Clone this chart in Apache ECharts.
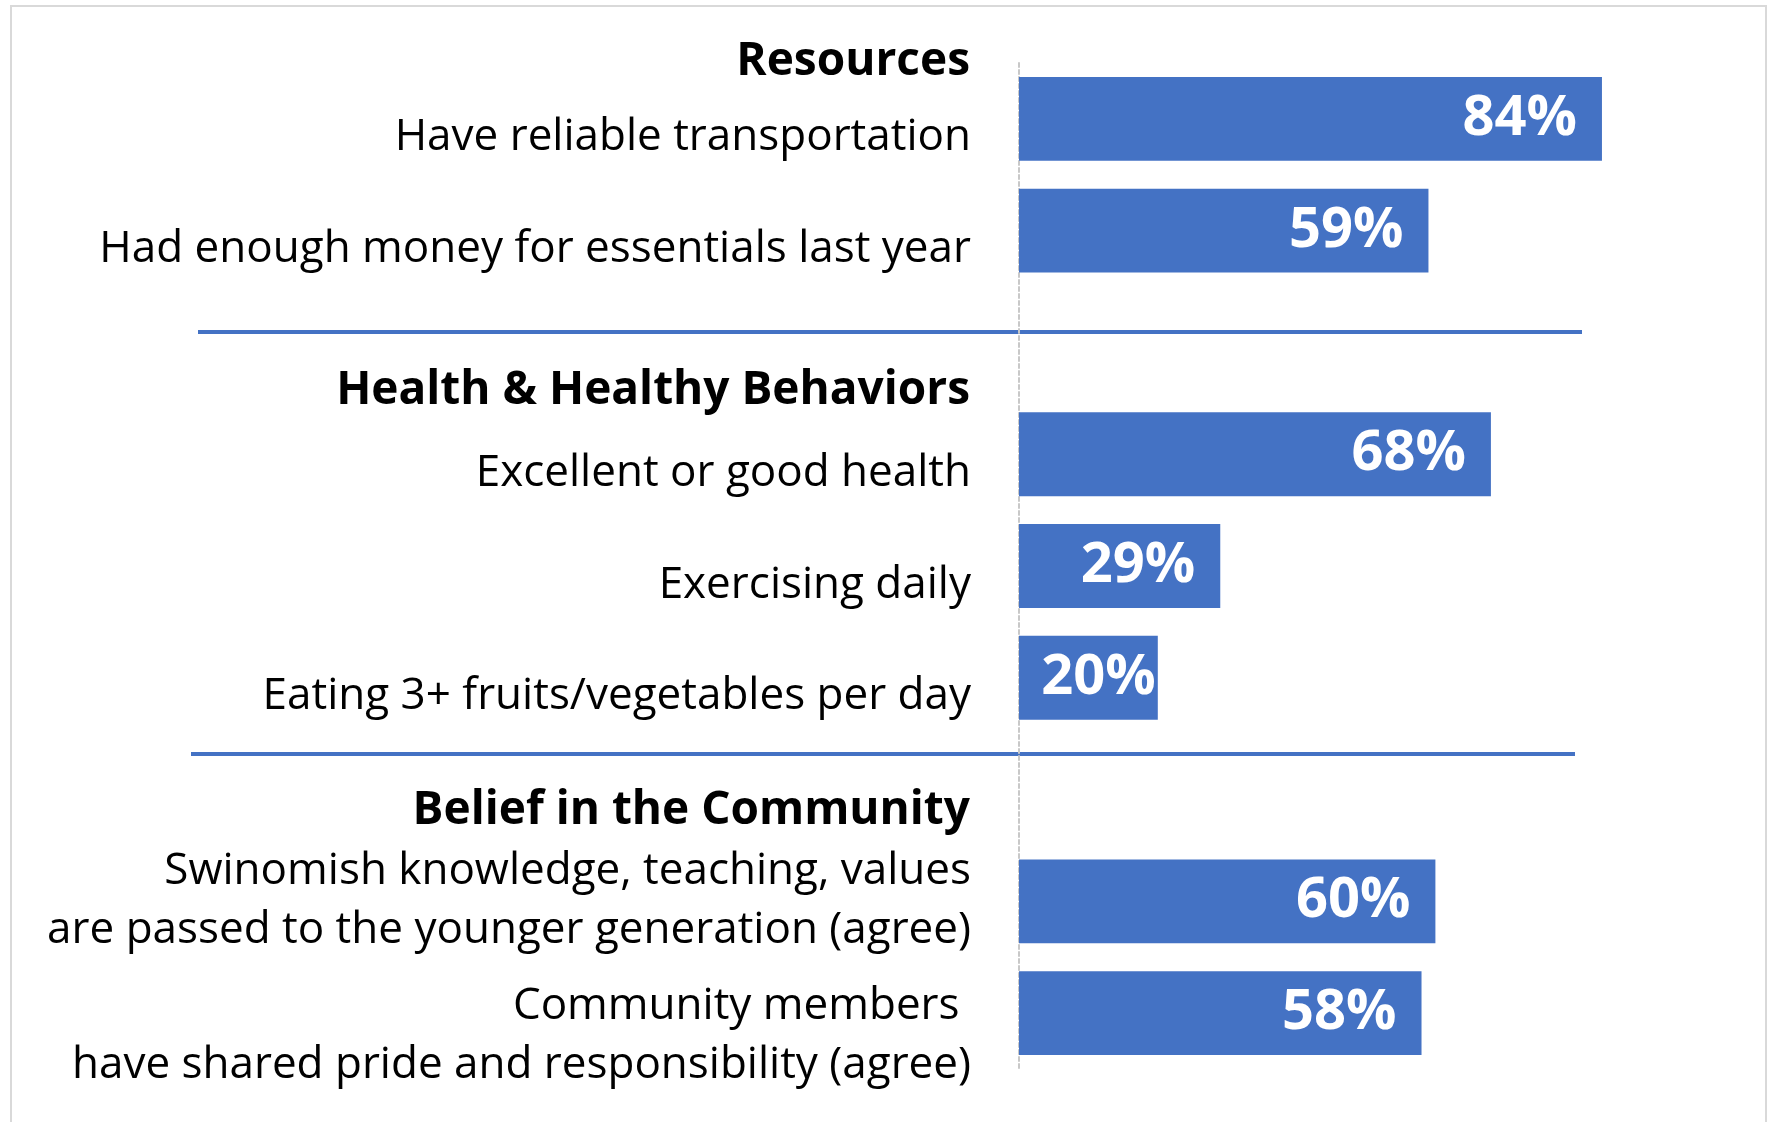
<!DOCTYPE html>
<html>
<head>
<meta charset="utf-8">
<script src="https://cdn.jsdelivr.net/npm/echarts@6/dist/echarts.min.js"></script>
<style>
  html, body { margin: 0; padding: 0; background: #fff; }
  #chart { width: 1775px; height: 1122px; }
</style>
</head>
<body>
<div id="chart"></div>
<script>
// rows of the chart, top to bottom; empty strings are the gaps between groups
const categories = [
  "Have reliable transportation",
  "Had enough money for essentials last year",
  "",
  "Excellent or good health",
  "Exercising daily",
  "Eating 3+ fruits/vegetables per day",
  "",
  "Swinomish knowledge, teaching, values\nare passed to the younger generation (agree)",
  "Community members \nhave shared pride and responsibility (agree)"
];
const values = [84, 59, null, 68, 29, 20, null, 60, 58];
const groupTitles = ["Resources", "Health & Healthy Behaviors", "Belief in the Community"];

const blue = "#4472C4";
const font = "Open Sans";

const chart = echarts.init(document.getElementById("chart"));

const barData = values.map((v) => {
  if (v == null) return null;
  // short bar: Excel pushes the label to the end of the bar
  if (v < 25) {
    return { value: v, label: { distance: 2 } };
  }
  return v;
});

chart.setOption({
  animation: false,
  grid: { left: 1019, right: 62, top: 63, bottom: 53 },
  xAxis: {
    type: "value",
    min: 0,
    max: 100,
    show: false
  },
  yAxis: {
    type: "category",
    inverse: true,
    data: categories,
    axisTick: { show: false },
    axisLine: {
      show: true,
      lineStyle: { color: "#c8c8c8", width: 2, type: [4, 3] }
    },
    axisLabel: {
      margin: 48,
      interval: 0,
      hideOverlap: false,
      formatter: (val, idx) => {
        if (!val) return "";
        const lines = val.split("\n");
        if (lines.length > 1) {
          let txt = "{m|" + lines[0] + "}\n{m|" + lines[1] + "}";
          // last row sits a bit lower than its bar: push it down with a spacer line
          if (idx === categories.length - 1) txt = "{e| }\n" + txt;
          return txt;
        }
        return "{s|" + val + "}";
      },
      rich: {
        s: {
          fontFamily: font,
          fontSize: 44,
          color: "#000",
          padding: [38, 0, 0, 0],
          align: "right"
        },
        m: {
          fontFamily: font,
          fontSize: 44,
          color: "#000",
          lineHeight: 59,
          align: "right"
        },
        e: {
          fontSize: 10,
          lineHeight: 46
        }
      }
    }
  },
  series: [
    {
      type: "bar",
      data: barData,
      barCategoryGap: "25%",
      itemStyle: { color: blue },
      label: {
        show: true,
        position: "insideRight",
        distance: 25,
        formatter: "{c}%",
        color: "#fff",
        fontFamily: font,
        fontWeight: "bold",
        fontSize: 56
      }
    }
  ],
  graphic: [
    {
      type: "rect",
      shape: { x: 11, y: 6, width: 1755, height: 1130 },
      style: { fill: null, stroke: "#d9d9d9", lineWidth: 2 },
      silent: true
    },
    {
      type: "text",
      x: 970,
      y: 62,
      style: { text: groupTitles[0], font: "bold 46px " + font, fill: "#000", align: "right", verticalAlign: "middle" }
    },
    {
      type: "text",
      x: 970,
      y: 391,
      style: { text: groupTitles[1], font: "bold 46px " + font, fill: "#000", align: "right", verticalAlign: "middle" }
    },
    {
      type: "text",
      x: 970,
      y: 811,
      style: { text: groupTitles[2], font: "bold 46px " + font, fill: "#000", align: "right", verticalAlign: "middle" }
    },
    {
      type: "line",
      shape: { x1: 198, y1: 332, x2: 1582, y2: 332 },
      style: { stroke: blue, lineWidth: 4 }
    },
    {
      type: "line",
      shape: { x1: 191, y1: 754, x2: 1575, y2: 754 },
      style: { stroke: blue, lineWidth: 4 }
    }
  ]
});
</script>
</body>
</html>
